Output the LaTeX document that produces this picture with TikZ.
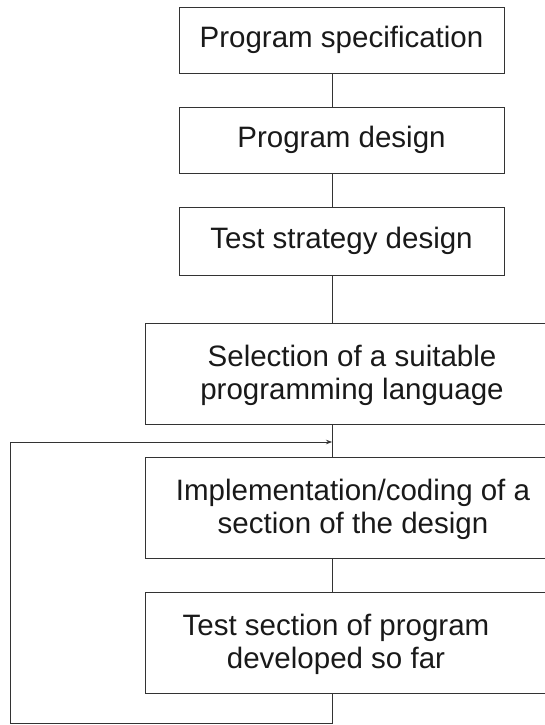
\documentclass[tikz,border=0pt]{standalone}
\usepackage{fontspec}
\setmainfont{Liberation Sans}
\usetikzlibrary{arrows.meta}
\begin{document}
\begin{tikzpicture}[x=1pt,y=1pt,
  stagebox/.style={draw=black!80, line width=0.8pt, rectangle, inner sep=0pt},
  upperbox/.style={stagebox, minimum width=325pt, minimum height=66pt},
  lowerbox/.style={stagebox, minimum width=414pt, minimum height=101pt},
  caption/.style={align=center, inner sep=0pt, font=\fontsize{29.5}{33}\selectfont},
  link/.style={draw=black!80, line width=0.7pt},
  every node/.style={text=black!90}]
\useasboundingbox (0,0) rectangle (545,725);

% Upper stages
\node[upperbox] (b1) at (341.5,685) {};
\node[caption] (t1) at (b1.center) {Program specification};
\node[upperbox] (b2) at (341.5,585) {};
\node[caption] (t2) at (b2.center) {Program design};
\node[upperbox, minimum height=68pt] (b3) at (341.5,484) {};
\node[caption] (t3) at (b3.center) {Test strategy design};

% Lower stages (run off the right edge)
\node[lowerbox] (b4) at (352,351.5) {};
\node[caption] (t4) at (352,350) {Selection of a suitable\\programming language};
\node[lowerbox] (b5) at (352,217.5) {};
\node[caption] (t5) at (353,216) {Implementation/coding of a\\section of the design};
\node[lowerbox] (b6) at (352,82.5) {};
\node[caption] (t6) at (336,81) {Test section of program\\developed so far};

% Spine and loop-back points
\coordinate (spine) at (332,0);
\coordinate (floor) at (10,2);
\coordinate (ret) at (10,283);
\coordinate (join) at (332,283);

\draw[link] (b1.south -| spine) -- (b2.north -| spine);
\draw[link] (b2.south -| spine) -- (b3.north -| spine);
\draw[link] (b3.south -| spine) -- (b4.north -| spine);
\draw[link] (b4.south -| spine) -- (b5.north -| spine);
\draw[link] (b5.south -| spine) -- (b6.north -| spine);

% Iteration loop back to coding
\draw[link, -{Stealth[length=6pt,width=4.5pt]}]
  (b6.south -| spine) -- (spine |- floor) -- (floor) -- (ret) -- (join);
\end{tikzpicture}
\end{document}
